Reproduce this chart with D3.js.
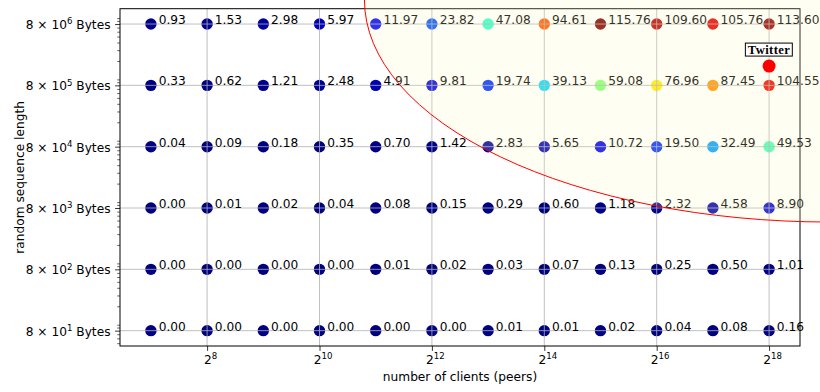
<!DOCTYPE html>
<html>
<head>
<meta charset="utf-8">
<script src="https://cdn.jsdelivr.net/npm/d3@7"></script>
<style>
  body { margin: 0; background: #fff; }
  svg { display: block; }
  text { font-family: "DejaVu Sans", sans-serif; }
</style>
</head>
<body>
<svg id="chart" width="820" height="392"></svg>
<script>
// Number of clients (peers): 2^7 ... 2^18
const clients = [2**7, 2**8, 2**9, 2**10, 2**11, 2**12, 2**13, 2**14, 2**15, 2**16, 2**17, 2**18];
// Random sequence length, bytes (one row per length)
const lengths = [8e6, 8e5, 8e4, 8e3, 8e2, 8e1];
const lengthExps = [6, 5, 4, 3, 2, 1];

// Measured values for each sequence length, one per client count
const time8e6 = [0.93, 1.53, 2.98, 5.97, 11.97, 23.82, 47.08, 94.61, 115.76, 109.60, 105.76, 113.60];
const time8e5 = [0.33, 0.62, 1.21, 2.48, 4.91, 9.81, 19.74, 39.13, 59.08, 76.96, 87.45, 104.55];
const time8e4 = [0.04, 0.09, 0.18, 0.35, 0.70, 1.42, 2.83, 5.65, 10.72, 19.50, 32.49, 49.53];
const time8e3 = [0.00, 0.01, 0.02, 0.04, 0.08, 0.15, 0.29, 0.60, 1.18, 2.32, 4.58, 8.90];
const time8e2 = [0.00, 0.00, 0.00, 0.00, 0.01, 0.02, 0.03, 0.07, 0.13, 0.25, 0.50, 1.01];
const time8e1 = [0.00, 0.00, 0.00, 0.00, 0.00, 0.00, 0.01, 0.01, 0.02, 0.04, 0.08, 0.16];
const timeRows = [time8e6, time8e5, time8e4, time8e3, time8e2, time8e1];

// x tick exponents (base 2)
const xTickExps = [8, 10, 12, 14, 16, 18];

// Reference point and highlighted region
const twitterPoint = { clients: 2**18, bytes: 1.65e6, label: "Twitter" };
const zone = { clients: 2**19.08, bytes: 1.97e7, octaves: 8.28, decades: 3.62 };

const svg = d3.select("#chart");
const W = 820, H = 392;
svg.append("rect").attr("width", W).attr("height", H).attr("fill", "#fff");

const box = { left: 120, right: 800, top: 8.7, bottom: 346 };

const x = d3.scaleLog().base(2)
  .domain([2**6.45, 2**18.55])
  .range([box.left, box.right]);
const y = d3.scaleLog()
  .domain([8e1 / 10**0.25, 8e6 * 10**0.25])
  .range([box.bottom, box.top]);

// jet colormap (piecewise linear channels)
const jetR = d3.scaleLinear().domain([0, 0.35, 0.66, 0.89, 1]).range([0, 0, 1, 1, 0.5]).clamp(true);
const jetG = d3.scaleLinear().domain([0, 0.125, 0.375, 0.64, 0.91, 1]).range([0, 0, 1, 1, 0, 0]).clamp(true);
const jetB = d3.scaleLinear().domain([0, 0.11, 0.34, 0.65, 1]).range([0.5, 1, 1, 0, 0]).clamp(true);
const vmax = d3.max(timeRows.flat());
const norm = d3.scaleLinear().domain([0, vmax]).range([0, 1]);
const jet = v => { const t = norm(v); return d3.rgb(255 * jetR(t), 255 * jetG(t), 255 * jetB(t)).toString(); };

const cells = [];
lengths.forEach((len, i) => {
  clients.forEach((c, j) => cells.push({ c, len, v: timeRows[i][j] }));
});

// points
svg.append("g").selectAll("circle").data(cells).join("circle")
  .attr("cx", d => x(d.c))
  .attr("cy", d => y(d.len))
  .attr("r", 5.7)
  .attr("fill", d => jet(d.v));

// grid
const grid = svg.append("g").attr("stroke", "#b0b0b0").attr("stroke-width", 0.8);
grid.selectAll("line.v").data(xTickExps).join("line").attr("class", "v")
  .attr("x1", e => x(2**e)).attr("x2", e => x(2**e))
  .attr("y1", box.top).attr("y2", box.bottom);
grid.selectAll("line.h").data(lengths).join("line").attr("class", "h")
  .attr("x1", box.left).attr("x2", box.right)
  .attr("y1", d => y(d)).attr("y2", d => y(d));

// value labels
svg.append("g").selectAll("text").data(cells).join("text")
  .attr("x", d => x(d.c * 1.1))
  .attr("y", d => y(d.len))
  .attr("font-size", 12.2)
  .attr("fill", "#000")
  .text(d => d.v.toFixed(2));

// spines
svg.append("rect")
  .attr("x", box.left).attr("y", box.top)
  .attr("width", box.right - box.left).attr("height", box.bottom - box.top)
  .attr("fill", "none").attr("stroke", "#000").attr("stroke-width", 1);

// x axis
const xAxis = d3.axisBottom(x).tickValues(xTickExps.map(e => 2**e)).tickSize(4.9).tickPadding(3.5).tickFormat("");
const gx = svg.append("g").attr("transform", `translate(0,${box.bottom})`).call(xAxis);
gx.select(".domain").remove();
gx.selectAll(".tick line").attr("stroke", "#000").attr("stroke-width", 0.8);
gx.selectAll(".tick").each(function (d) {
  const t = d3.select(this).append("text")
    .attr("y", 18).attr("text-anchor", "middle").attr("fill", "#000")
    .attr("font-size", 12.2).attr("dx", 3);
  t.append("tspan").text("2");
  t.append("tspan").attr("font-size", 8.6).attr("dy", -5).text(Math.round(Math.log2(d)));
});

// y axis (major)
const yAxis = d3.axisLeft(y).tickValues(lengths).tickSize(4.9).tickFormat("");
const gy = svg.append("g").attr("transform", `translate(${box.left},0)`).call(yAxis);
gy.select(".domain").remove();
gy.selectAll(".tick line").attr("stroke", "#000").attr("stroke-width", 0.8);
gy.selectAll(".tick").each(function (d, i) {
  const t = d3.select(this).append("text")
    .attr("x", -9.5).attr("y", 4.6).attr("text-anchor", "end").attr("fill", "#000")
    .attr("font-size", 12.2);
  t.append("tspan").text("8 \u00d7 10");
  t.append("tspan").attr("font-size", 8.6).attr("dy", -4.8).text(lengthExps[i]);
  t.append("tspan").attr("dy", 4.8).text(" Bytes");
});

// y axis (minor)
const minor = [];
for (let k = 1; k <= 7; k++) for (let m = 1; m <= 9; m++) {
  const v = m * 10**k;
  if (m !== 8 && v > y.domain()[0] && v < y.domain()[1]) minor.push(v);
}
const gym = svg.append("g").attr("transform", `translate(${box.left},0)`)
  .call(d3.axisLeft(y).tickValues(minor).tickSize(2.8).tickFormat(""));
gym.select(".domain").remove();
gym.selectAll(".tick line").attr("stroke", "#000").attr("stroke-width", 0.6);

// axis titles
svg.append("text")
  .attr("x", (box.left + box.right) / 2).attr("y", 381)
  .attr("text-anchor", "middle").attr("font-size", 12.2).attr("fill", "#000")
  .text("number of clients (peers)");
svg.append("text")
  .attr("transform", `translate(24,${(box.top + box.bottom) / 2}) rotate(-90)`)
  .attr("text-anchor", "middle").attr("font-size", 12.2).attr("fill", "#000")
  .text("random sequence length");

// highlighted region
const zcx = x(zone.clients), zcy = y(zone.bytes);
const zrx = zcx - x(zone.clients / 2**zone.octaves);
const zry = y(zone.bytes / 10**zone.decades) - zcy;
svg.append("ellipse")
  .attr("cx", zcx).attr("cy", zcy).attr("rx", zrx).attr("ry", zry)
  .attr("fill", "#fff8c0").attr("fill-opacity", 0.2)
  .attr("stroke", "#ff0000").attr("stroke-width", 1);

// reference point
const tx = x(twitterPoint.clients), ty = y(twitterPoint.bytes);
svg.append("circle").attr("cx", tx).attr("cy", ty).attr("r", 6.5).attr("fill", "#ff0000");
const lbl = svg.append("g");
const lt = lbl.append("text")
  .attr("x", tx).attr("y", ty - 12.5)
  .attr("text-anchor", "middle")
  .style("font-family", "'Liberation Serif', 'DejaVu Serif', serif")
  .attr("font-weight", "bold")
  .attr("font-size", 12.6).attr("fill", "#000")
  .attr("letter-spacing", 0.4)
  .text(twitterPoint.label);
const bb = lt.node().getBBox();
lbl.insert("rect", "text")
  .attr("x", bb.x - 2.5).attr("y", bb.y + 0.5)
  .attr("width", bb.width + 4.5).attr("height", bb.height - 1)
  .attr("fill", "#fff").attr("stroke", "#000").attr("stroke-width", 1);
</script>
</body>
</html>
